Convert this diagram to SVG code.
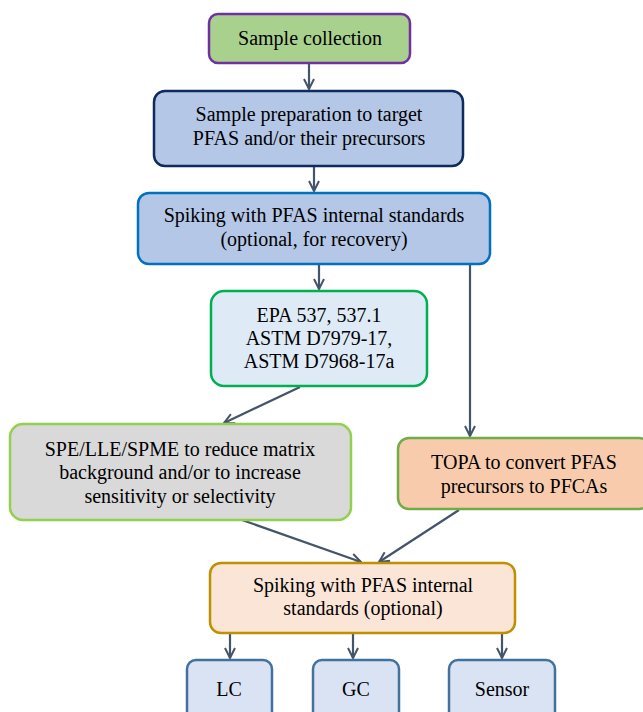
<svg xmlns="http://www.w3.org/2000/svg" width="643" height="712" viewBox="0 0 643 712">
<style>
.box{stroke-width:2.5}
text{font-size:20px;fill:#000;text-anchor:middle;font-family:'Liberation Serif','Times New Roman',Times,serif}
.con{stroke:#44546a;stroke-width:2.2;fill:none}
</style>
<defs>
<marker id="ah" viewBox="0 0 12 12" refX="11" refY="6" markerWidth="12" markerHeight="12" markerUnits="userSpaceOnUse" orient="auto">
<path d="M1,1 L11,6 L1,11" fill="none" stroke="#44546a" stroke-width="2"/>
</marker>
</defs>
<rect width="643" height="712" fill="#fff"/>
<g id="connectors">
<line class="con" x1="309" y1="63" x2="309" y2="89" marker-end="url(#ah)"/>
<line class="con" x1="314" y1="166" x2="314" y2="191" marker-end="url(#ah)"/>
<line class="con" x1="319" y1="264" x2="319" y2="289" marker-end="url(#ah)"/>
<line class="con" x1="300" y1="387" x2="224" y2="423" marker-end="url(#ah)"/>
<line class="con" x1="470" y1="264" x2="470" y2="436" marker-end="url(#ah)"/>
<line class="con" x1="242" y1="520" x2="361" y2="562" marker-end="url(#ah)"/>
<line class="con" x1="459" y1="510" x2="379" y2="562" marker-end="url(#ah)"/>
<line class="con" x1="230" y1="633" x2="230" y2="658" marker-end="url(#ah)"/>
<line class="con" x1="353" y1="633" x2="353" y2="658" marker-end="url(#ah)"/>
<line class="con" x1="502" y1="633" x2="502" y2="658" marker-end="url(#ah)"/>
</g>
<g id="n1">
<rect class="box" x="209" y="14" width="201" height="49" rx="9" fill="#a9d18e" stroke="#7030a0"/>
<text x="310" y="45">Sample collection</text>
</g>
<g id="n2">
<rect class="box" x="154" y="91" width="309" height="75" rx="11" fill="#b4c7e7" stroke="#0e2a5e"/>
<text x="309" y="121">Sample preparation to target</text>
<text x="309" y="145">PFAS and/or their precursors</text>
</g>
<g id="n3">
<rect class="box" x="138" y="193" width="352" height="71" rx="11" fill="#b4c7e7" stroke="#0070c0"/>
<text x="314" y="222">Spiking with PFAS internal standards</text>
<text x="314" y="246">(optional, for recovery)</text>
</g>
<g id="n4">
<rect class="box" x="211" y="291" width="216" height="95" rx="13" fill="#deebf7" stroke="#00b050"/>
<text x="319" y="322">EPA 537, 537.1</text>
<text x="319" y="345">ASTM D7979-17,</text>
<text x="319" y="368">ASTM D7968-17a</text>
</g>
<g id="n5">
<rect class="box" x="10" y="424" width="341" height="96" rx="13" fill="#d9d9d9" stroke="#92d050"/>
<text x="180" y="456">SPE/LLE/SPME to reduce matrix</text>
<text x="180" y="479">background and/or to increase</text>
<text x="180" y="503">sensitivity or selectivity</text>
</g>
<g id="n6">
<rect class="box" x="398" y="438" width="252" height="71" rx="11" fill="#f8cbad" stroke="#70ad47"/>
<text x="524" y="469">TOPA to convert PFAS</text>
<text x="524" y="493">precursors to PFCAs</text>
</g>
<g id="n7">
<rect class="box" x="210" y="563" width="305" height="70" rx="11" fill="#fbe5d6" stroke="#bf9000"/>
<text x="363" y="592">Spiking with PFAS internal</text>
<text x="363" y="615">standards (optional)</text>
</g>
<g id="n8">
<rect class="box" x="187" y="660" width="85" height="65" rx="9" fill="#dae3f3" stroke="#41719c"/>
<text x="229" y="696">LC</text>
</g>
<g id="n9">
<rect class="box" x="313" y="660" width="86" height="65" rx="9" fill="#dae3f3" stroke="#41719c"/>
<text x="356" y="696">GC</text>
</g>
<g id="n10">
<rect class="box" x="449" y="660" width="106" height="65" rx="9" fill="#dae3f3" stroke="#41719c"/>
<text x="502" y="696">Sensor</text>
</g>
</svg>
